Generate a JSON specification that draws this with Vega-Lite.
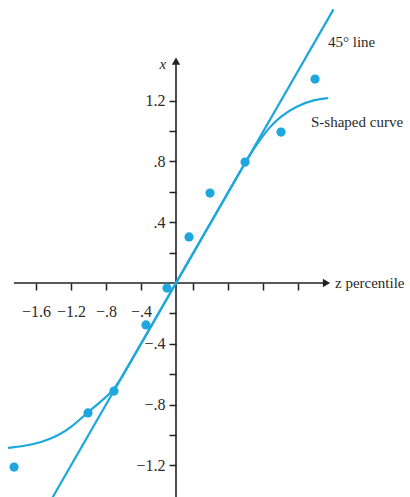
{
  "$schema": "https://vega.github.io/schema/vega-lite/v6.json",
  "width": 410,
  "height": 497,
  "padding": 0,
  "autosize": "none",
  "background": "white",
  "config": {"view": {"stroke": null}},
  "datasets": {
    "points": [
      {"z": 1.589, "x": 1.342},
      {"z": 1.2, "x": 0.993},
      {"z": 0.789, "x": 0.796},
      {"z": 0.389, "x": 0.592},
      {"z": 0.149, "x": 0.303},
      {"z": -0.103, "x": -0.033},
      {"z": -0.343, "x": -0.276},
      {"z": -0.709, "x": -0.711},
      {"z": -1.006, "x": -0.855},
      {"z": -1.851, "x": -1.211}
    ],
    "diag": [
      {"z": -1.45, "x": -1.45},
      {"z": 1.8, "x": 1.8}
    ],
    "scurve": [
      {"z": -1.92, "x": -1.085},
      {"z": -1.75, "x": -1.075},
      {"z": -1.55, "x": -1.05},
      {"z": -1.36, "x": -1.01},
      {"z": -1.18, "x": -0.942},
      {"z": -1.006, "x": -0.85},
      {"z": -0.86, "x": -0.78},
      {"z": -0.72, "x": -0.71},
      {"z": -0.62, "x": -0.62},
      {"z": -0.5, "x": -0.5},
      {"z": 0.0, "x": 0.0},
      {"z": 0.6, "x": 0.6},
      {"z": 0.7, "x": 0.7},
      {"z": 0.8, "x": 0.8},
      {"z": 0.9, "x": 0.895},
      {"z": 0.98, "x": 0.958},
      {"z": 1.07, "x": 1.025},
      {"z": 1.19, "x": 1.095},
      {"z": 1.38, "x": 1.165},
      {"z": 1.566, "x": 1.205},
      {"z": 1.74, "x": 1.217}
    ],
    "axes": [
      {"za": -1.851, "zb": 1.70, "xa": 0, "xb": 0},
      {"za": 0, "zb": 0, "xa": -1.45, "xb": 1.44}
    ],
    "arrowx": [{"z": 1.72, "x": 0}],
    "arrowy": [{"z": 0, "x": 1.46}],
    "labels": [
      {"z": 1.737, "x": 1.586, "t": "45° line"},
      {"z": 1.543, "x": 1.059, "t": "S-shaped curve"},
      {"z": 1.817, "x": 0.0, "t": "z percentile"}
    ],
    "ylab": [{"z": -0.15, "x": 1.44, "t": "x"}]
  },
  "encoding": {
    "x": {"field": "z", "type": "quantitative", "scale": {"domain": [-2.0114, 2.6743], "nice": false, "zero": false}},
    "y": {"field": "x", "type": "quantitative", "scale": {"domain": [-1.408, 1.862], "nice": false, "zero": false}}
  },
  "layer": [
    {
      "data": {"name": "axes"},
      "mark": {"type": "rule", "color": "#222", "strokeWidth": 1.6},
      "encoding": {
        "x": {"field": "za", "type": "quantitative", "title": null,
          "axis": {"orient": "bottom", "offset": -214, "domain": false, "grid": false,
            "values": [-1.6, -1.4, -1.2, -1.0, -0.8, -0.6, -0.4, -0.2, 0.2, 0.4, 0.6, 0.8, 1.0, 1.2, 1.4, 1.6],
            "tickSize": 7, "tickWidth": 1.5, "tickColor": "#222",
            "labelExpr": "(abs(round(datum.value*10)) % 4 == 0) ? replace(format(datum.value, '.1f'), '0.', '.') : ''",
            "labelFont": "Liberation Serif", "labelFontSize": 16, "labelColor": "#2a2a2a",
            "labelPadding": 13, "labelBaseline": "top", "labelFlush": false, "labelOverlap": false}},
        "x2": {"field": "zb"},
        "y": {"field": "xa", "type": "quantitative", "title": null,
          "axis": {"orient": "left", "offset": -176, "domain": false, "grid": false,
            "values": [-1.2, -1.0, -0.8, -0.6, -0.4, -0.2, 0.2, 0.4, 0.6, 0.8, 1.0, 1.2],
            "tickSize": 7, "tickWidth": 1.5, "tickColor": "#222",
            "labelExpr": "(abs(round(datum.value*10)) % 4 == 0) ? replace(format(datum.value, '.1f'), '0.', '.') : ''",
            "labelFont": "Liberation Serif", "labelFontSize": 16, "labelColor": "#2a2a2a",
            "labelPadding": 4, "labelFlush": false, "labelOverlap": false}},
        "y2": {"field": "xb"}
      }
    },
    {
      "data": {"name": "arrowx"},
      "mark": {"type": "point", "shape": "triangle-right", "filled": true, "color": "#222", "size": 70, "opacity": 1}
    },
    {
      "data": {"name": "arrowy"},
      "mark": {"type": "point", "shape": "triangle-up", "filled": true, "color": "#222", "size": 70, "opacity": 1}
    },
    {
      "data": {"name": "diag"},
      "mark": {"type": "line", "color": "#1ea7dd", "strokeWidth": 2.2, "clip": true}
    },
    {
      "data": {"name": "scurve"},
      "mark": {"type": "line", "color": "#1ea7dd", "strokeWidth": 2.2, "interpolate": "basis", "clip": true}
    },
    {
      "data": {"name": "points"},
      "mark": {"type": "circle", "color": "#1ea7dd", "size": 85, "opacity": 1}
    },
    {
      "data": {"name": "labels"},
      "mark": {"type": "text", "align": "left", "baseline": "middle", "font": "Liberation Serif", "fontSize": 15, "color": "#2a2a2a"},
      "encoding": {"text": {"field": "t"}}
    },
    {
      "data": {"name": "ylab"},
      "mark": {"type": "text", "align": "center", "baseline": "middle", "font": "Liberation Serif", "fontSize": 15, "fontStyle": "italic", "color": "#2a2a2a"},
      "encoding": {"text": {"field": "t"}}
    }
  ]
}
